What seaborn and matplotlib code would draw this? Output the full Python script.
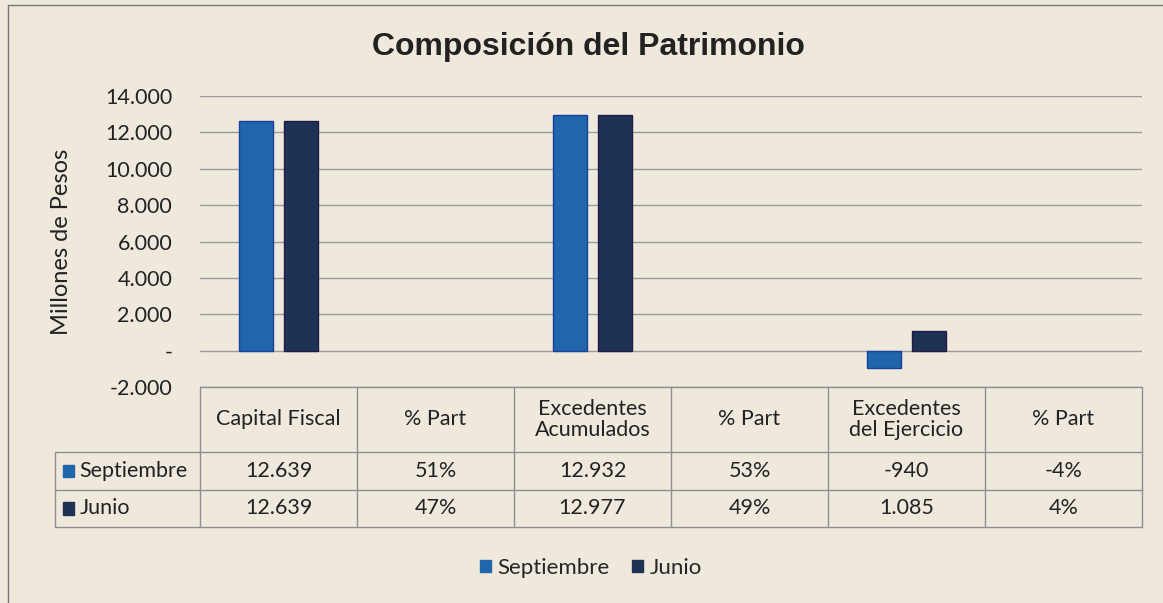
import numpy as np
import pandas as pd
import seaborn as sns
from matplotlib import pyplot as plt
from matplotlib.lines import Line2D
from matplotlib.patches import Rectangle

sns.set_style('white')
plt.rcParams['font.family'] = ['Lato', 'DejaVu Sans']

categorias = ['Capital Fiscal', '% Part', 'Excedentes\nAcumulados', '% Part',
              'Excedentes\ndel Ejercicio', '% Part']
septiembre = [12639, 0.51, 12932, 0.53, -940, -0.04]
junio = [12639, 0.47, 12977, 0.49, 1085, 0.04]
txt_septiembre = ['12.639', '51%', '12.932', '53%', '-940', '-4%']
txt_junio = ['12.639', '47%', '12.977', '49%', '1.085', '4%']
series = ['Septiembre', 'Junio']
colores = ['#2066AC', '#1C3356']
bordes = ['#1A3FA0', '#241A4A']

BG = '#EEE9DC'
LINE = '#8E8E8E'
TXT = '#222222'
FS = 15.5

df = pd.DataFrame({
    'pos': list(range(len(categorias))) * 2,
    'serie': ['Septiembre'] * len(categorias) + ['Junio'] * len(categorias),
    'valor': septiembre + junio,
})

fig = plt.figure(figsize=(11.63, 6.03), dpi=100, facecolor=BG)
ax = fig.add_axes([200 / 1163, 1 - 387 / 603, 942 / 1163, 291 / 603])
ax.set_facecolor(BG)

sns.barplot(data=df, x='pos', y='valor', hue='serie', hue_order=series,
            palette=colores, saturation=1, width=0.57, gap=0.25, ax=ax, legend=False)
for cont, ec in zip(ax.containers, bordes):
    for b in cont:
        if abs(b.get_height()) > 50:
            b.set_edgecolor(ec)
            b.set_linewidth(1)
        else:
            b.set_linewidth(0)

ax.set_xlim(-0.5, len(categorias) - 0.5)
ax.set_ylim(-2000, 14000)
ax.set_yticks(np.arange(-2000, 14001, 2000))
ax.set_yticklabels(['-' if v == 0 else f'{v:,.0f}'.replace(',', '.')
                    for v in np.arange(-2000, 14001, 2000)], fontsize=15.5, color=TXT)
ax.tick_params(axis='y', length=0, pad=20)
ax.set_xticks([])
ax.set_xlabel('')
ax.set_ylabel('Millones de Pesos', fontsize=17, color=TXT)
ax.yaxis.set_label_coords(-0.136, 0.5)
for s in ax.spines.values():
    s.set_visible(False)
ax.grid(axis='y', color='#9A9A9A', lw=1)
ax.set_axisbelow(True)

# data table under the plot
tr = ax.get_xaxis_transform()
n = len(categorias)
y_top, y_h, y_r1, y_r2 = 0.0, -0.223, -0.354, -0.481
x_left = -1.424
kw = dict(transform=tr, color=LINE, lw=1, clip_on=False)
ax.add_line(Line2D([-0.5, n - 0.5], [y_top, y_top], **kw))
for yy in (y_h, y_r1, y_r2):
    ax.add_line(Line2D([x_left, n - 0.5], [yy, yy], **kw))
for i in range(n + 1):
    ax.add_line(Line2D([i - 0.5, i - 0.5], [y_top, y_r2], **kw))
ax.add_line(Line2D([x_left, x_left], [y_h, y_r2], **kw))

for i, lab in enumerate(categorias):
    ax.text(i, (y_top + y_h) / 2, lab, transform=tr, ha='center', va='center',
            fontsize=FS, color=TXT, linespacing=1.1)
    ax.text(i, (y_h + y_r1) / 2, txt_septiembre[i], transform=tr, ha='center',
            va='center', fontsize=FS, color=TXT)
    ax.text(i, (y_r1 + y_r2) / 2, txt_junio[i], transform=tr, ha='center',
            va='center', fontsize=FS, color=TXT)

for yy, nombre, c in zip([(y_h + y_r1) / 2, (y_r1 + y_r2) / 2], series, colores):
    ax.add_patch(Rectangle((x_left + 0.05, yy - 0.022), 0.072, 0.044,
                           transform=tr, color=c, clip_on=False))
    ax.text(x_left + 0.155, yy, nombre, transform=tr, ha='left', va='center',
            fontsize=FS, color=TXT)

fig.text(0.506, 1 - 47 / 603, 'Composición del Patrimonio', ha='center', va='center',
         fontsize=23, fontweight='bold', family='Liberation Sans', color=TXT)

handles = [Rectangle((0, 0), 1, 1, color=c) for c in colores]
fig.legend(handles, series, loc='center', bbox_to_anchor=(0.508, 1 - 568 / 603),
           ncol=2, frameon=False, fontsize=16, handlelength=0.5, handleheight=0.5,
           handletextpad=0.3, columnspacing=1.0)

# chart border
fig.add_artist(Line2D([8 / 1163, 8 / 1163], [0, 1 - 5 / 603], color='#777777', lw=1))
fig.add_artist(Line2D([8 / 1163, 1], [1 - 5 / 603, 1 - 5 / 603], color='#777777', lw=1))

plt.savefig('out.png', dpi=100, facecolor=BG)
